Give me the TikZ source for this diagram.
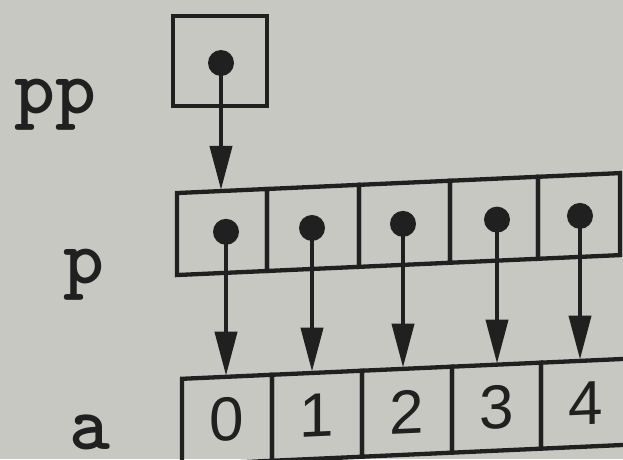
\documentclass[tikz,border=0pt]{standalone}
\usepackage{fontspec}
\setmainfont{Liberation Sans}
\usetikzlibrary{arrows.meta}
\definecolor{paper}{RGB}{200,200,195}
\definecolor{ink}{RGB}{32,32,32}
\tikzset{
  cell/.style={draw=ink, line width=4.3pt, inner sep=0pt, minimum height=82pt, transform shape},
  acell/.style={draw=ink, line width=4.3pt, inner sep=0pt, minimum height=86pt, transform shape,
    font=\fontsize{62}{62}\selectfont, text=ink},
  dotc/.style={circle, fill=ink, inner sep=0pt, minimum size=26pt},
  ptr/.style={draw=ink, line width=4.2pt, -{Triangle[length=44pt,width=22pt]}, shorten >=-1pt},
  varlab/.style={font=\ttfamily\bfseries\fontsize{78}{78}\selectfont, text=ink, anchor=base, inner sep=0pt}
}
\begin{document}
\begin{tikzpicture}[x=1pt,y=1pt]
\useasboundingbox (0,0) rectangle (623,459);
\fill[paper] (0,0) rectangle (623,459);
\clip (0,0) rectangle (623,459);

% labels
\node[varlab] (lpp) at (55.5,346) {pp};
\node[varlab] (lp) at (84,176) {p};
\node[varlab] (la) at (90,10) {a};

% pp box
\node[draw=ink, line width=4.3pt, minimum width=94pt, minimum height=90pt, inner sep=0pt] (pp) at (220,398) {};
\node[dotc] (ppd) at (221,396) {};

% p row
\begin{scope}[yslant=0.045]
  \node[cell, minimum width=90pt] (p0) at (222,217) {};
  \node[cell, minimum width=92pt] (p1) at (313,217) {};
  \node[cell, minimum width=91pt] (p2) at (404.5,217) {};
  \node[cell, minimum width=88pt] (p3) at (494,217) {};
  \node[cell, minimum width=82pt] (p4) at (579,217) {};
  \node[dotc] (d0) at (226,217) {};
  \node[dotc] (d1) at (312,217) {};
  \node[dotc] (d2) at (403,217) {};
  \node[dotc] (d3) at (497,217) {};
  \node[dotc] (d4) at (580,217) {};
\end{scope}

% a row
\begin{scope}[yslant=0.045]
  \node[acell, minimum width=90pt] (a0) at (227,29) {0};
  \node[acell, minimum width=90pt] (a1) at (317,29) {1};
  \node[acell, minimum width=90pt] (a2) at (407,29) {2};
  \node[acell, minimum width=89pt] (a3) at (496.5,29) {3};
  \node[acell, minimum width=89pt] (a4) at (585.5,29) {4};
\end{scope}

% pointers
\draw[ptr] (ppd.center) -- (ppd.center |- p0.north);
\draw[ptr] (d0.center) -- (d0.center |- a0.north);
\draw[ptr] (d1.center) -- (d1.center |- a1.north);
\draw[ptr] (d2.center) -- (d2.center |- a2.north);
\draw[ptr] (d3.center) -- (d3.center |- a3.north);
\draw[ptr] (d4.center) -- (d4.center |- a4.north);
\end{tikzpicture}
\end{document}
